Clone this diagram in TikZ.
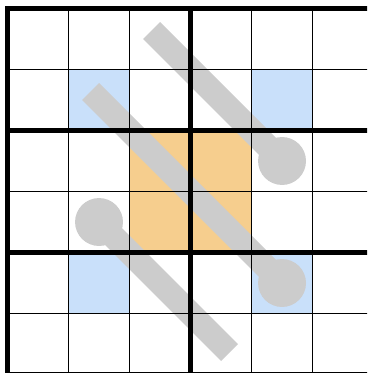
\documentclass[tikz,border=0pt]{standalone}
\usetikzlibrary{positioning}
\definecolor{cellblue}{RGB}{201,224,250}
\definecolor{cellorange}{RGB}{246,206,142}
\definecolor{arrowgray}{RGB}{204,204,204}
\tikzset{
  thingrid/.style={line width=0.8pt, black},
  boxgrid/.style={line width=2pt, black, line cap=rect},
  bar/.style={arrowgray, line width=11.2pt, line cap=rect},
  bulb/.style={circle, fill=arrowgray, inner sep=0pt, minimum size=0.786cm},
  bluecell/.style={fill=cellblue},
  orangecell/.style={fill=cellorange}
}
\begin{document}
\begin{tikzpicture}
    \useasboundingbox (-0.123,0.139) rectangle (5.893,-5.975);
    \clip (-0.123,0.139) rectangle (5.893,-5.975);

    % Shaded cells
    \foreach \c/\r in {1/1,4/1,1/4,4/4}
      \fill[bluecell] (\c,-\r) rectangle ++(1,-1);
    \fill[orangecell] (2,-2) rectangle (4,-4);

    % Arrows
    \node[bulb] (b1) at (4.5,-2.5) {};
    \node[bulb] (b2) at (4.5,-4.5) {};
    \node[bulb] (b3) at (1.5,-3.5) {};
    \coordinate (t1) at (2.5,-0.5);
    \coordinate (t2) at (1.5,-1.5);
    \coordinate (t3) at (3.5,-5.5);
    \draw[bar] (t1) -- (b1.center);
    \draw[bar] (t2) -- (b2.center);
    \draw[bar] (b3.center) -- (t3);

    % Grid
    \foreach \i in {1,2,4,5}
      \draw[thingrid] (\i,0) -- (\i,-6);
    \foreach \i in {1,3,5}
      \draw[thingrid] (0,-\i) -- (6,-\i);
    \foreach \i in {0,3,6}
      \draw[boxgrid] (\i,0) -- (\i,-6);
    \foreach \i in {0,2,4,6}
      \draw[boxgrid] (0,-\i) -- (6,-\i);

\end{tikzpicture}
\end{document}
